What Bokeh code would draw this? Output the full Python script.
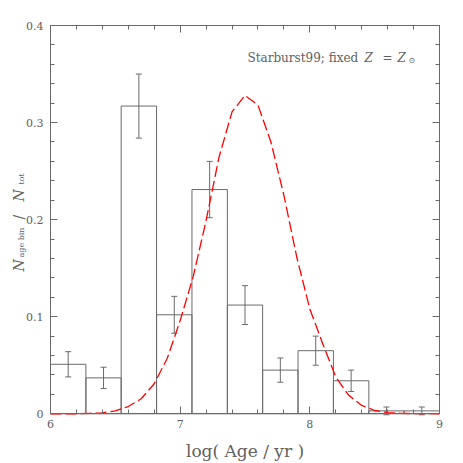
import math
from bokeh.plotting import figure
from bokeh.models import (LinearAxis, SingleIntervalTicker, Label, Whisker, ColumnDataSource,
                          CustomJSTickFormatter, TeeHead, Range1d)
from bokeh.embed import file_html
from bokeh.resources import INLINE

# ---- data ----
bin_edges = [6.0, 6.273, 6.545, 6.818, 7.091, 7.364, 7.636, 7.909, 8.182, 8.455, 8.727, 9.0]
bin_frac = [0.051, 0.037, 0.317, 0.102, 0.231, 0.112, 0.045, 0.065, 0.034, 0.003, 0.003]
bin_err = [0.013, 0.011, 0.033, 0.019, 0.029, 0.020, 0.0125, 0.015, 0.011, 0.004, 0.004]

model_logage = [6.0, 6.1, 6.2, 6.3, 6.4, 6.5, 6.6, 6.7, 6.8, 6.9, 7.0, 7.1, 7.2, 7.3, 7.4, 7.5,
                7.6, 7.7, 7.8, 7.9, 8.0, 8.1, 8.2, 8.3, 8.4, 8.5, 8.6, 8.7, 8.8, 8.9, 9.0]
model_frac = [0.0, 0.0, 0.0, 0.0005, 0.001, 0.003, 0.0075, 0.0155, 0.031, 0.057, 0.096, 0.141,
              0.199, 0.2645, 0.311, 0.328, 0.318, 0.280, 0.225, 0.161, 0.108, 0.072, 0.038,
              0.019, 0.0086, 0.0034, 0.0013, 0.0005, 0.0002, 0.0001, 0.0]

x_bounds = (6.0, 9.0)
y_bounds = (0.0, 0.4)
x_ticks_major = 1.0
y_ticks_major = 0.1

FONT = "DejaVu Serif"
TXT = "#606060"
LN = "#6a6a6a"

W = 463
H = 463
# pixel geometry of the plot box inside the canvas
BOX_L, BOX_R, BOX_T, BOX_B = 50.0, 439.0, 25.0, 413.3
sx = (BOX_R - BOX_L) / (x_bounds[1] - x_bounds[0])
sy = (BOX_B - BOX_T) / (y_bounds[1] - y_bounds[0])
x0 = x_bounds[0] - BOX_L / sx
x1 = x_bounds[1] + (W - BOX_R) / sx
y1 = y_bounds[1] + BOX_T / sy
y0 = y_bounds[0] - (H - BOX_B) / sy


def dx(px):
    return x0 + px / sx


def dy(py):
    return y1 - py / sy


p = figure(width=W, height=H, x_range=Range1d(x0, x1), y_range=Range1d(y0, y1),
           output_backend="svg", toolbar_location=None,
           x_axis_location=None, y_axis_location=None,
           min_border=0, min_border_left=0, min_border_right=0,
           min_border_top=0, min_border_bottom=0)
p.grid.visible = False
p.outline_line_color = None
p.background_fill_color = "white"
p.border_fill_color = "white"

blank = CustomJSTickFormatter(code="return '';")


def make_axis(ticker_int, loc, bounds, show, side):
    ax = LinearAxis(ticker=SingleIntervalTicker(interval=ticker_int, num_minor_ticks=5),
                    fixed_location=loc, bounds=bounds)
    ax.major_tick_in = 7
    ax.major_tick_out = 0
    ax.minor_tick_in = 4
    ax.minor_tick_out = 0
    ax.axis_line_color = LN
    ax.major_tick_line_color = LN
    ax.minor_tick_line_color = LN
    ax.major_label_text_font = FONT
    ax.major_label_text_font_size = "11px"
    ax.major_label_text_color = TXT
    ax.major_label_standoff = 6
    if not show:
        ax.formatter = blank
        ax.major_label_standoff = 0
    p.add_layout(ax, side)
    return ax


xa = make_axis(x_ticks_major, y_bounds[0], x_bounds, True, "below")
ya = make_axis(y_ticks_major, x_bounds[0], y_bounds, True, "left")
ya.formatter = CustomJSTickFormatter(code="return Math.abs(tick) < 1e-9 ? '0' : tick.toFixed(1);")
ya.major_label_standoff = 7
make_axis(x_ticks_major, y_bounds[1], x_bounds, False, "above")
make_axis(y_ticks_major, x_bounds[1], y_bounds, False, "right")

# histogram
src = ColumnDataSource(dict(
    left=bin_edges[:-1], right=bin_edges[1:], top=bin_frac,
    mid=[(a + b) / 2 for a, b in zip(bin_edges[:-1], bin_edges[1:])],
    upper=[f + e for f, e in zip(bin_frac, bin_err)],
    lower=[f - e for f, e in zip(bin_frac, bin_err)],
))
p.quad(left="left", right="right", top="top", bottom=0, source=src,
       fill_color=None, line_color=LN, line_width=1)

wh = Whisker(source=src, base="mid", upper="upper", lower="lower", dimension="height",
             line_color=LN, line_width=1,
             upper_head=TeeHead(size=6, line_color=LN, line_width=1),
             lower_head=TeeHead(size=6, line_color=LN, line_width=1))
p.add_layout(wh)

# model curve
p.line(model_logage, model_frac, line_color="#ff0000", line_width=1.3, line_dash="11 4")


def lab(px, py, text, size, italic=False, angle=0.0, align="left"):
    p.add_layout(Label(x=dx(px), y=dy(py), text=text, text_font=FONT,
                       text_font_size=size, text_color=TXT,
                       text_font_style="italic" if italic else "normal",
                       angle=angle, text_align=align, text_baseline="alphabetic"))


# annotation
lab(247, 57, "Starburst99; fixed", "12px")
lab(364, 57, "Z", "12px", italic=True)
lab(382, 57, "=", "12px")
lab(397, 57, "Z", "12px", italic=True)
lab(408, 60, "\u2299", "8px")

# x axis label
lab(244.5, 450, "log( Age / yr )", "17px", align="center")

# y axis label (rotated pieces)
A = math.pi / 2
lab(18, 271, "N", "14px", italic=True, angle=A)
lab(21, 257, "age bin", "8px", angle=A)
lab(18, 219, "/", "14px", angle=A)
lab(18, 201, "N", "14px", italic=True, angle=A)
lab(21, 184, "tot", "8px", angle=A)

open("out.html", "w").write(file_html(p, INLINE))
